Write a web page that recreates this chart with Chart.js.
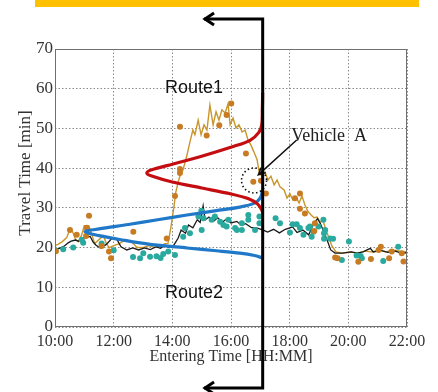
<!DOCTYPE html>
<html>
<head>
<meta charset="utf-8">
<script src="https://cdn.jsdelivr.net/npm/chart.js@4.4.1/dist/chart.umd.min.js"></script>
<style>
  html, body { margin: 0; padding: 0; background: #fff; }
  #wrap { width: 438px; height: 392px; }
</style>
</head>
<body>
<div id="wrap"><canvas id="chart" width="438" height="392"></canvas></div>
<script>
// x values are clock hours (10 = 10:00), y values are travel minutes
const hourTicks = [10, 12, 14, 16, 18, 20, 22];
const minuteTicks = [0, 10, 20, 30, 40, 50, 60, 70];

// Route1 moving travel time (gold line)
const route1TrendHours = [10.0, 10.1, 10.25, 10.4, 10.5, 10.6, 10.7, 10.8, 10.9, 11.0, 11.15, 11.25, 11.35, 11.5, 11.65, 11.75, 11.85, 12.0,
  12.2, 12.4, 12.6, 12.8, 13.0, 13.2, 13.4, 13.6, 13.75, 13.85, 13.95, 14.05, 14.12, 14.2, 14.28,
  14.36, 14.5, 14.6, 14.7, 14.77, 14.88, 14.98, 15.08, 15.18, 15.28, 15.39, 15.49, 15.59, 15.69, 15.8, 15.9, 15.97,
  16.07, 16.17, 16.27, 16.38, 16.48, 16.58, 16.68, 16.78, 16.89, 16.96, 17.06, 17.16, 17.26, 17.36, 17.47, 17.57,
  17.67, 17.81, 17.91, 18.01, 18.11, 18.22, 18.32, 18.42, 18.52, 18.63, 18.73, 18.83, 18.93, 19.04, 19.14, 19.24,
  19.34, 19.44, 19.58, 19.79, 20.06, 20.33, 20.57, 20.81, 21.08, 21.28, 21.52, 21.76, 22.0];
const route1TrendMin = [20.5, 20.8, 21.5, 22.5, 24.5, 24.0, 22.0, 21.5, 23.0, 25.5, 25.5, 23.5, 21.0, 22.0, 23.0, 21.0, 20.0, 20.5,
  21.0, 22.0, 21.5, 20.0, 20.0, 20.5, 20.0, 20.5, 21.0, 21.0, 25.0, 30.0, 34.0, 36.5, 38.5,
  39.5, 43.3, 46.6, 49.6, 48.4, 52.1, 48.4, 50.9, 49.6, 55.9, 50.9, 54.2, 52.1, 54.7, 53.9, 56.2, 50.9,
  52.6, 50.1, 50.9, 49.1, 49.6, 47.1, 45.8, 44.1, 42.1, 39.0, 37.8, 39.0, 37.0, 38.0, 35.8, 37.0,
  35.3, 34.5, 32.5, 33.5, 32.0, 32.7, 31.2, 33.0, 30.7, 29.0, 28.2, 27.5, 27.7, 26.4, 26.7, 24.4,
  22.4, 20.4, 18.9, 18.6, 18.9, 18.6, 19.1, 18.9, 19.4, 18.9, 19.4, 19.1, 18.9];

// Route2 moving travel time (black line)
const route2TrendHours = [10.0, 10.15, 10.3, 10.45, 10.55, 10.7, 10.8, 10.95, 11.1, 11.2, 11.3, 11.4, 11.55, 11.75, 11.95, 12.1,
  12.25, 12.45, 12.65, 12.85, 13.05, 13.25, 13.45, 13.6, 13.75, 13.9, 14.05, 14.2, 14.3, 14.45, 14.55, 14.7, 14.85,
  14.95, 15.05, 15.12, 15.25, 15.4, 15.55, 15.7, 15.85, 16.0, 16.2, 16.35, 16.5, 16.7, 16.9, 17.1, 17.25, 17.45,
  17.65, 17.85, 18.1, 18.25, 18.45, 18.65, 18.8, 18.95, 19.05, 19.25, 19.4, 19.55, 19.8, 20.1, 20.3, 20.5, 20.75,
  20.85, 21.1, 21.35, 21.6, 21.8, 22.0];
const route2TrendMin = [19.5, 19.8, 20.3, 21.2, 21.6, 21.9, 21.6, 22.4, 22.6, 22.8, 21.4, 20.6, 19.9, 20.8, 22.4, 22.2,
  20.2, 19.4, 19.9, 19.4, 19.9, 19.5, 20.2, 19.8, 20.6, 20.0, 20.6, 22.4, 24.4, 23.6, 25.7, 25.0, 27.0,
  26.3, 30.5, 27.0, 27.7, 26.6, 27.5, 26.4, 27.2, 26.2, 26.6, 25.6, 26.0, 25.0, 24.9, 24.4, 23.9, 24.6,
  23.7, 24.6, 25.2, 23.8, 24.4, 23.2, 25.7, 27.3, 26.0, 22.4, 19.4, 18.6, 18.6, 18.9, 18.6, 18.9, 19.8,
  18.9, 19.3, 18.8, 19.1, 18.6, 18.7];

// individual vehicles, Route1 (orange dots)
const route1SampleHours = [10.03, 10.51, 10.74, 11.06, 11.16, 11.08, 11.59, 11.84, 11.91, 12.67, 13.81, 14.09, 14.26, 14.26,
  14.26, 15.17, 15.6, 15.85, 16.01, 16.51, 16.76, 17.02, 17.19, 18.18, 18.35, 18.35, 18.52, 18.86, 18.84,
  19.55, 19.63, 20.34, 20.77, 21.03, 21.11, 21.39, 21.48, 21.82, 21.88];
const route1SampleMin = [19.1, 24.4, 23.2, 22.9, 28.0, 25.0, 20.4, 19.0, 17.3, 24.0, 22.3, 33.0, 39.8, 38.8,
  50.4, 48.2, 50.8, 53.4, 56.3, 43.7, 36.6, 36.8, 33.6, 32.4, 33.6, 29.8, 28.6, 26.1, 24.2,
  17.5, 17.3, 16.4, 17.1, 19.4, 20.2, 17.3, 19.0, 18.6, 16.5];

// individual vehicles, Route2 (teal dots)
const route2SampleHours = [10.0, 10.28, 10.62, 10.91, 10.96, 11.59, 12.0, 12.66, 12.9, 13.01, 13.24, 13.46, 13.6, 13.69, 13.86,
  14.09, 14.37, 14.43, 14.6, 14.89, 15.0, 15.06, 14.99, 15.34, 15.45, 15.63, 15.74, 15.85, 15.91, 16.14, 16.2,
  16.37, 16.37, 16.59, 16.59, 16.82, 16.97, 16.97, 17.52, 17.67, 18.01, 18.1, 18.24, 18.35, 18.47, 18.64, 18.69,
  18.75, 18.81, 18.98, 19.15, 19.17, 19.21, 19.17, 19.38, 19.48, 19.78, 20.02, 20.28, 20.42, 20.46, 21.19, 21.7];
const route2SampleMin = [19.4, 19.6, 20.0, 22.0, 21.2, 21.0, 19.3, 17.6, 17.3, 18.6, 17.7, 17.8, 17.4, 18.4, 19.0,
  18.1, 22.7, 24.9, 23.6, 27.8, 24.4, 27.4, 29.3, 27.0, 27.8, 26.5, 25.7, 25.3, 27.0, 24.9, 24.4,
  26.1, 24.4, 28.2, 27.0, 24.4, 26.1, 27.8, 27.4, 26.1, 23.8, 25.9, 25.9, 24.9, 23.2, 24.9, 25.3,
  22.7, 24.0, 25.3, 27.0, 23.6, 24.4, 22.2, 22.3, 22.2, 16.9, 21.5, 18.0, 17.9, 17.3, 16.6, 20.2];

// predicted travel time distributions, drawn sideways from the cut line
const route1DistMin = [59.0, 55.0, 51.0, 49.0, 47.0, 45.5, 43.0, 41.0, 39.6, 38.8, 38.0, 36.5, 35.0, 33.5, 32.3, 31.0, 29.5, 28.7];
const route1DistHours = [17.08, 17.07, 17.05, 16.95, 16.65, 16.1, 15.0, 14.0, 13.3, 13.13, 13.3, 14.0, 15.0, 16.0, 16.6, 16.9, 17.05, 17.08];
const route2DistMin = [34.5, 32.5, 31.2, 30.2, 29.3, 28.2, 27.0, 25.8, 24.7, 24.0, 23.0, 21.9, 20.8, 19.9, 19.2, 18.6, 18.0, 17.4];
const route2DistHours = [17.08, 17.0, 16.8, 16.3, 15.5, 14.5, 13.5, 12.5, 11.5, 11.02, 11.5, 12.3, 13.24, 14.5, 15.5, 16.3, 16.8, 17.08];

const cutHour = 17.08;
const vehicleA = { hour: 16.785, min: 36.9 };

const pts = (xs, ys) => xs.map((x, i) => ({ x, y: ys[i] }));
const serif = '"Liberation Serif", "Times New Roman", serif';
const sans = '"Liberation Sans", Arial, sans-serif';

const overlay = {
  id: 'overlay',
  beforeDraw(chart) {
    const { ctx } = chart;
    ctx.save();
    ctx.fillStyle = '#fff';
    ctx.fillRect(0, 0, chart.width, chart.height);
    ctx.fillStyle = '#ffc000';
    ctx.fillRect(35, 0, 384, 7);
    ctx.restore();
  },
  afterDatasetsDraw(chart) {
    const { ctx, chartArea: a, scales: { x, y } } = chart;
    ctx.save();
    // plot box
    ctx.strokeStyle = '#707070';
    ctx.lineWidth = 1;
    ctx.strokeRect(a.left + 0.5, a.top + 0.5, a.width - 1, a.height - 1);

    // y title
    ctx.fillStyle = '#333';
    ctx.font = '17px ' + serif;
    ctx.textAlign = 'center';
    ctx.textBaseline = 'middle';
    ctx.save();
    ctx.translate(26, 173);
    ctx.rotate(-Math.PI / 2);
    ctx.fillText('Travel Time [min]', 0, 0);
    ctx.restore();

    // route labels
    ctx.fillStyle = '#111';
    ctx.font = '18px ' + sans;
    ctx.textAlign = 'left';
    ctx.textBaseline = 'alphabetic';
    ctx.fillText('Route1', x.getPixelForValue(13.75), y.getPixelForValue(58.9));
    ctx.fillText('Route2', x.getPixelForValue(13.75), y.getPixelForValue(7.3));

    // Vehicle A
    ctx.font = '18px ' + serif;
    ctx.fillStyle = '#222';
    ctx.fillText('Vehicle  A', x.getPixelForValue(18.05), y.getPixelForValue(46.8));
    const cx = x.getPixelForValue(vehicleA.hour), cy = y.getPixelForValue(vehicleA.min);
    ctx.strokeStyle = '#111';
    ctx.lineWidth = 1.6;
    ctx.setLineDash([1.5, 2.5]);
    ctx.beginPath();
    ctx.arc(cx, cy, 12.5, 0, Math.PI * 2);
    ctx.stroke();
    ctx.setLineDash([]);
    const x0 = x.getPixelForValue(18.24), y0 = y.getPixelForValue(47.1);
    const x1 = x.getPixelForValue(16.93), y1 = y.getPixelForValue(38.3);
    const ang = Math.atan2(y1 - y0, x1 - x0);
    ctx.lineWidth = 1.5;
    ctx.beginPath();
    ctx.moveTo(x0, y0);
    ctx.lineTo(x1, y1);
    ctx.moveTo(x1 - 8 * Math.cos(ang - 0.45), y1 - 8 * Math.sin(ang - 0.45));
    ctx.lineTo(x1, y1);
    ctx.lineTo(x1 - 8 * Math.cos(ang + 0.45), y1 - 8 * Math.sin(ang + 0.45));
    ctx.stroke();

    // cut line with arrows
    const cutX = x.getPixelForValue(cutHour);
    const tipX = x.getPixelForValue(15.08);
    ctx.strokeStyle = '#000';
    ctx.lineWidth = 3;
    ctx.lineJoin = 'miter';
    ctx.beginPath();
    ctx.moveTo(tipX, 19);
    ctx.lineTo(cutX, 19);
    ctx.lineTo(cutX, 388);
    ctx.lineTo(tipX, 388);
    ctx.stroke();
    [19, 388].forEach(ay => {
      ctx.beginPath();
      ctx.moveTo(tipX + 10, ay - 6);
      ctx.lineTo(tipX + 1, ay);
      ctx.lineTo(tipX + 10, ay + 6);
      ctx.stroke();
    });
    ctx.restore();
  }
};

new Chart(document.getElementById('chart'), {
  type: 'scatter',
  data: {
    datasets: [
      { data: pts(route1DistHours, route1DistMin), showLine: true, borderColor: '#c40d10', borderWidth: 3.2, pointRadius: 0, tension: 0.3 },
      { data: pts(route2DistHours, route2DistMin), showLine: true, borderColor: '#1f78c8', borderWidth: 3.2, pointRadius: 0, tension: 0.3 },
      { data: pts(route1SampleHours, route1SampleMin), backgroundColor: '#c77b22', borderWidth: 0, pointRadius: 3 },
      { data: pts(route2SampleHours, route2SampleMin), backgroundColor: '#2aaa9f', borderWidth: 0, pointRadius: 3 },
      { data: pts(route2TrendHours, route2TrendMin), showLine: true, borderColor: '#1a1a1a', borderWidth: 1.3, pointRadius: 0 },
      { data: pts(route1TrendHours, route1TrendMin), showLine: true, borderColor: '#c9962b', borderWidth: 1.4, pointRadius: 0 }
    ]
  },
  options: {
    responsive: false,
    animation: false,
    devicePixelRatio: 1,
    layout: { padding: { top: 49, right: 31, left: 0, bottom: 0 } },
    plugins: { legend: { display: false }, tooltip: { enabled: false } },
    scales: {
      x: {
        type: 'linear', min: 10, max: 22,
        afterBuildTicks: s => { s.ticks = hourTicks.map(v => ({ value: v })); },
        afterFit: s => { s.height = 65; },
        ticks: { padding: 5, color: '#333', font: { family: serif, size: 16 }, maxRotation: 0, callback: v => v + ':00' },
        grid: { color: '#8a8a8a', lineWidth: 1, drawTicks: false },
        border: { display: false, dash: [1.5, 2] },
        title: { display: true, text: 'Entering Time [HH:MM]', color: '#333', font: { family: serif, size: 16 }, padding: { bottom: 26 } }
      },
      y: {
        type: 'linear', min: 0, max: 70,
        afterBuildTicks: s => { s.ticks = minuteTicks.map(v => ({ value: v })); },
        afterFit: s => { s.width = 55; },
        ticks: { padding: 2, color: '#333', font: { family: serif, size: 17 } },
        grid: { color: '#8a8a8a', lineWidth: 1, drawTicks: false },
        border: { display: false, dash: [1.5, 2] }
      }
    }
  },
  plugins: [overlay]
});
</script>
</body>
</html>
